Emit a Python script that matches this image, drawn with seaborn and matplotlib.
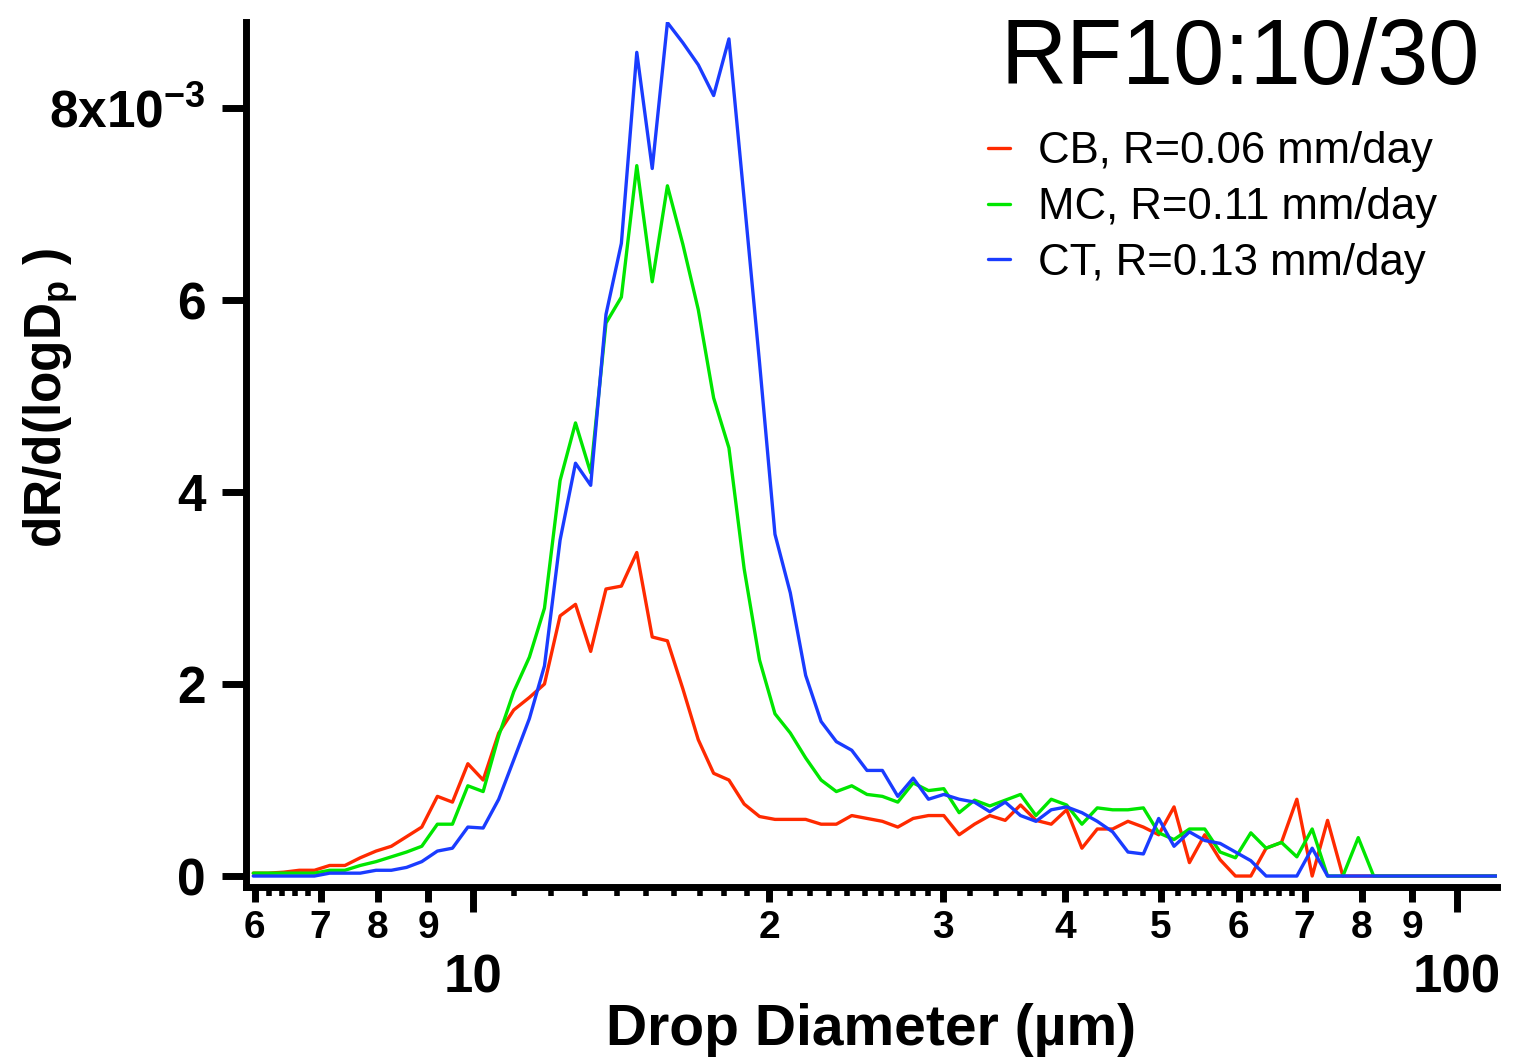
import numpy as np
import pandas as pd
import matplotlib
matplotlib.use("Agg")
import matplotlib.pyplot as plt
import seaborn as sns

# drop diameter bins (um)
diameter = [5.98, 6.19, 6.42, 6.66, 6.90, 7.15, 7.41, 7.68, 7.97, 8.26,
            8.56, 8.87, 9.20, 9.53, 9.88, 10.24, 10.62, 11.00, 11.41, 11.82,
            12.26, 12.71, 13.17, 13.65, 14.15, 14.67, 15.21, 15.76, 16.34, 16.94,
            17.56, 18.20, 18.86, 19.55, 20.27, 21.01, 21.78, 22.58, 23.40, 24.26,
            25.14, 26.06, 27.02, 28.01, 29.03, 30.09, 31.19, 32.33, 33.51, 34.74,
            36.01, 37.33, 38.69, 40.11, 41.57, 43.09, 44.67, 46.30, 48.00, 49.75,
            51.57, 53.46, 55.41, 57.44, 59.54, 61.72, 63.97, 66.31, 68.74, 71.25,
            73.86, 76.56, 79.36, 82.27, 85.27, 88.39, 91.62, 94.97, 98.45, 102.05,
            105.78, 109.65]

# dR/d(logDp) in units of 1e-3
cb = [0.03, 0.03, 0.04, 0.06, 0.06, 0.11, 0.11, 0.19, 0.26, 0.31,
      0.41, 0.51, 0.83, 0.77, 1.17, 1.00, 1.49, 1.73, 1.86, 2.00,
      2.71, 2.83, 2.34, 2.99, 3.02, 3.37, 2.49, 2.45, 1.95, 1.42,
      1.07, 1.00, 0.75, 0.62, 0.59, 0.59, 0.59, 0.54, 0.54, 0.63,
      0.60, 0.57, 0.51, 0.60, 0.63, 0.63, 0.43, 0.54, 0.63, 0.58,
      0.74, 0.58, 0.54, 0.69, 0.29, 0.49, 0.49, 0.57, 0.51, 0.43,
      0.72, 0.14, 0.43, 0.17, 0.0, 0.0, 0.29, 0.35, 0.80, 0.0,
      0.58, 0.0, 0.0, 0.0, 0.0, 0.0, 0.0, 0.0, 0.0, 0.0,
      0.0, 0.0]
mc = [0.03, 0.03, 0.03, 0.03, 0.03, 0.06, 0.06, 0.11, 0.15, 0.20,
      0.25, 0.31, 0.54, 0.54, 0.94, 0.88, 1.46, 1.92, 2.28, 2.79,
      4.12, 4.72, 4.20, 5.76, 6.03, 7.40, 6.19, 7.19, 6.58, 5.90,
      4.98, 4.46, 3.20, 2.25, 1.69, 1.49, 1.23, 1.00, 0.88, 0.94,
      0.85, 0.83, 0.77, 0.97, 0.89, 0.91, 0.66, 0.79, 0.73, 0.79,
      0.85, 0.63, 0.80, 0.74, 0.54, 0.71, 0.69, 0.69, 0.71, 0.45,
      0.38, 0.49, 0.49, 0.25, 0.19, 0.45, 0.29, 0.35, 0.20, 0.49,
      0.0, 0.0, 0.40, 0.0, 0.0, 0.0, 0.0, 0.0, 0.0, 0.0,
      0.0, 0.0]
ct = [0.0, 0.0, 0.0, 0.0, 0.0, 0.03, 0.03, 0.03, 0.06, 0.06,
      0.09, 0.15, 0.26, 0.29, 0.51, 0.50, 0.80, 1.21, 1.64, 2.19,
      3.50, 4.30, 4.07, 5.85, 6.59, 8.58, 7.37, 8.89, 8.68, 8.45,
      8.13, 8.72, 7.05, 5.35, 3.56, 2.95, 2.09, 1.61, 1.40, 1.31,
      1.10, 1.10, 0.83, 1.02, 0.80, 0.85, 0.80, 0.77, 0.67, 0.77,
      0.63, 0.57, 0.69, 0.72, 0.66, 0.57, 0.46, 0.25, 0.23, 0.60,
      0.31, 0.46, 0.37, 0.34, 0.25, 0.16, 0.0, 0.0, 0.0, 0.29,
      0.0, 0.0, 0.0, 0.0, 0.0, 0.0, 0.0, 0.0, 0.0, 0.0,
      0.0, 0.0]

series_names = ["CB, R=0.06 mm/day", "MC, R=0.11 mm/day", "CT, R=0.13 mm/day"]
series_colors = ["#ff2a00", "#00e600", "#1a3cff"]

major_ticks = [10, 100]
mid_ticks = [6, 7, 8, 9, 20, 30, 40, 50, 60, 70, 80, 90]
mid_labels = ["6", "7", "8", "9", "2", "3", "4", "5", "6", "7", "8", "9"]
small_ticks = [6.2, 6.4, 6.6, 6.8, 11, 12, 13, 14, 15, 16, 17, 18, 19,
               21, 22, 23, 24, 25, 26, 27, 28, 29, 32, 34, 36, 38,
               42, 44, 46, 48, 52, 54, 56, 58, 62, 64, 66, 68]
y_ticks = [0, 2e-3, 4e-3, 6e-3, 8e-3]
y_labels = ["0", "2", "4", "6", r"8x10$^{\mathregular{-3}}$"]

# long table for seaborn
frames = []
for name, vals in zip(series_names, [cb, mc, ct]):
    frames.append(pd.DataFrame({"d": diameter,
                                "v": np.array(vals) * 1e-3,
                                "run": name}))
df = pd.concat(frames, ignore_index=True)

sns.set_style("ticks")
plt.rcParams["font.family"] = ["Liberation Sans", "DejaVu Sans"]
plt.rcParams["mathtext.fontset"] = "custom"
plt.rcParams["mathtext.rm"] = "Liberation Sans:bold"
plt.rcParams["mathtext.it"] = "Liberation Sans:bold"
plt.rcParams["mathtext.bf"] = "Liberation Sans:bold"
plt.rcParams["axes.unicode_minus"] = False
for key in ["text.color", "axes.edgecolor", "axes.labelcolor",
            "xtick.color", "ytick.color"]:
    plt.rcParams[key] = "black"

fig = plt.figure(figsize=(15.14, 10.62), dpi=100)
ax = fig.add_axes([246 / 1514, (1062 - 886.5) / 1062, 1251 / 1514, 864.5 / 1062])

sns.lineplot(data=df, x="d", y="v", hue="run", palette=series_colors,
             hue_order=series_names, estimator=None, sort=False,
             linewidth=2.4, ax=ax)

ax.set_xscale("log")
ax.set_xlim(5.879, 109.8)
ax.set_ylim(-0.109e-3, 8.896e-3)

for s in ["top", "right"]:
    ax.spines[s].set_visible(False)
for s in ["left", "bottom"]:
    ax.spines[s].set_linewidth(5)

# x axis: three tick levels
ax.set_xticks(major_ticks)
ax.set_xticklabels(["10", "100"])
ax.set_xticks(mid_ticks, minor=True)
ax.set_xticklabels(mid_labels, minor=True)
ax.tick_params(axis="x", which="major", length=18, width=5, pad=30,
               labelsize=38)
ax.tick_params(axis="x", which="minor", length=11, width=5, pad=6,
               labelsize=28)
for lab in ax.get_xticklabels(which="both"):
    lab.set_fontweight("bold")

sec = ax.secondary_xaxis("bottom")
sec.set_xticks(small_ticks)
sec.xaxis.set_minor_locator(matplotlib.ticker.NullLocator())
sec.tick_params(axis="x", which="major", length=6.5, width=4, labelbottom=False)
sec.spines["bottom"].set_visible(False)

ax.set_yticks(y_ticks)
ax.set_yticklabels(y_labels)
ax.tick_params(axis="y", length=17, width=5, pad=12, labelsize=37)
for lab in ax.get_yticklabels():
    lab.set_fontweight("bold")

ax.set_xlabel("Drop Diameter (µm)", fontsize=41, fontweight="bold", labelpad=0)
ax.set_ylabel(r"dR/d(logD$_{p}$ )", fontsize=37, fontweight="bold")
ax.yaxis.set_label_coords(-0.133, 0.565)

fig.text(1000 / 1514, 1 - 84 / 1062, "RF10:10/30", fontsize=66,
         va="baseline", ha="left")

ax.legend(loc="upper left", bbox_to_anchor=(988 / 1514, 1 - 131 / 1062),
          bbox_transform=fig.transFigure, frameon=False, borderpad=0,
          borderaxespad=0, handlelength=0.5, handletextpad=0.65,
          labelspacing=0.34, fontsize=31.5, title=None)

fig.savefig("out.png", dpi=100)
